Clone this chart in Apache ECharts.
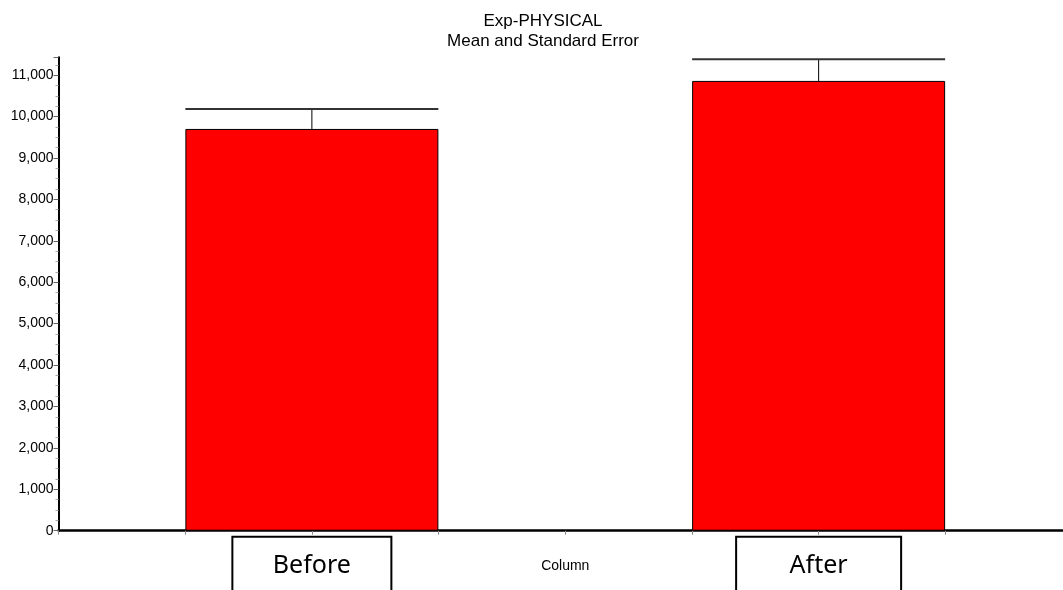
<!DOCTYPE html>
<html>
<head>
<meta charset="utf-8">
<script src="https://cdn.jsdelivr.net/npm/echarts@6/dist/echarts.min.js"></script>
<style>
  html, body { margin: 0; padding: 0; background: #fff; }
  #chart { width: 1063px; height: 590px; }
</style>
</head>
<body>
<div id="chart"></div>
<script>
// ---- data ----
const categories = ['Before', 'After'];
const categoryPositions = [1, 3];
const means = [9700, 10860];
const stdErrors = [480, 525];
const axisLabelName = 'Column';
const yTicks = [0, 1000, 2000, 3000, 4000, 5000, 6000, 7000, 8000, 9000, 10000, 11000];

const ARIAL = "'Liberation Sans', Arial, sans-serif";
const BAR_W = 253;

const barData = categories.map((c, i) => [categoryPositions[i], means[i]]);
const errData = categories.map((c, i) => [categoryPositions[i], means[i], means[i] + stdErrors[i]]);

const chart = echarts.init(document.getElementById('chart'), null, { renderer: 'canvas' });
chart.setOption({
  animation: false,
  backgroundColor: '#ffffff',
  title: {
    text: 'Exp-PHYSICAL',
    subtext: 'Mean and Standard Error',
    left: 538,
    textAlign: 'center',
    top: 6,
    itemGap: 0,
    textStyle: { fontFamily: ARIAL, fontSize: 17, fontWeight: 'normal', color: '#000', lineHeight: 20.5 },
    subtextStyle: { fontFamily: ARIAL, fontSize: 17, color: '#000', lineHeight: 20.5 }
  },
  grid: { left: 58.5, right: -9, top: 57.3, bottom: 59.3, containLabel: false, outerBoundsMode: 'none' },
  xAxis: {
    type: 'value',
    min: 0,
    max: 4,
    interval: 0.5,
    splitLine: { show: false },
    axisLine: { show: true, lineStyle: { color: '#000', width: 2.5 } },
    axisTick: { show: true, length: 4, lineStyle: { color: '#888', width: 1 } },
    axisLabel: {
      margin: 6,
      formatter: function (v) {
        const idx = categoryPositions.indexOf(v);
        if (idx === 0) return '{b1|' + categories[idx] + '}';
        if (idx === 1) return '{b2|' + categories[idx] + '}';
        if (v === 2) return '{col|' + axisLabelName + '}';
        return '';
      },
      rich: {
        b1: { fontFamily: "'Noto Sans', 'Open Sans', sans-serif", fontSize: 25, color: '#000',
              width: 159, height: 58, lineHeight: 58, align: 'center', borderColor: '#000', borderWidth: 2 },
        b2: { fontFamily: "'Noto Sans', 'Open Sans', sans-serif", fontSize: 25, color: '#000',
              width: 165, height: 58, lineHeight: 58, align: 'center', borderColor: '#000', borderWidth: 2 },
        col: { fontFamily: ARIAL, fontSize: 14, color: '#000', height: 58, lineHeight: 58 }
      }
    }
  },
  yAxis: {
    type: 'value',
    min: 0,
    max: 11430,
    interval: 1000,
    splitLine: { show: false },
    axisLine: { show: true, lineStyle: { color: '#000', width: 2 } },
    axisTick: { show: true, length: 5, lineStyle: { color: '#666', width: 1 } },
    minorTick: { show: true, splitNumber: 4, length: 3, lineStyle: { color: '#aaa', width: 1 } },
    axisLabel: {
      margin: 5,
      fontFamily: ARIAL,
      fontSize: 14,
      color: '#000',
      formatter: function (v) {
        if (yTicks.indexOf(v) < 0) return '';
        return v.toLocaleString('en-US');
      }
    }
  },
  series: [
    {
      type: 'bar',
      data: barData,
      barWidth: BAR_W,
      itemStyle: { color: '#ff0000', borderColor: '#000', borderWidth: 1 },
      z: 2
    },
    {
      type: 'custom',
      data: errData,
      z: 3,
      renderItem: function (params, api) {
        const x = api.value(0);
        const base = api.coord([x, api.value(1)]);
        const top = api.coord([x, api.value(2)]);
        const half = BAR_W / 2;
        return {
          type: 'group',
          children: [
            { type: 'line', shape: { x1: base[0], y1: base[1], x2: top[0], y2: top[1] },
              style: { stroke: '#000', lineWidth: 1 } },
            { type: 'line', shape: { x1: top[0] - half, y1: top[1], x2: top[0] + half, y2: top[1] },
              style: { stroke: '#333', lineWidth: 2 } }
          ]
        };
      }
    }
  ]
});
</script>
</body>
</html>
